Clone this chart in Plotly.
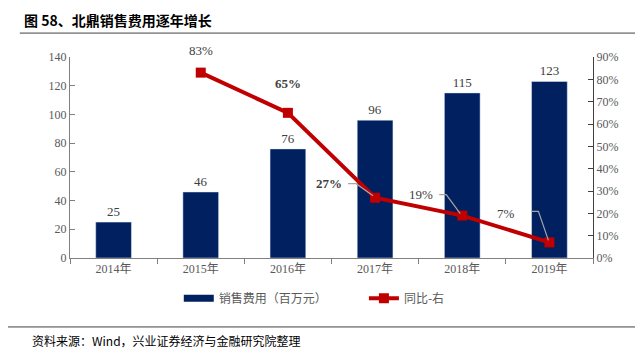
import plotly.graph_objects as go

years = ["2014年", "2015年", "2016年", "2017年", "2018年", "2019年"]
sales_expense = [25, 46, 76, 96, 115, 123]
yoy_years = ["2015年", "2016年", "2017年", "2018年", "2019年"]
yoy = [83, 65, 27, 19, 7]
yoy_labels = ["83%", "<b>65%</b>", "<b>27%</b>", "19%", "7%"]

navy = "#002060"
red = "#C00000"
gray = "#595959"
serif = "Times New Roman, Liberation Serif, Noto Sans CJK SC, serif"
cjk = "Noto Sans CJK SC, sans-serif"

fig = go.Figure()
fig.add_trace(go.Bar(
    x=years, y=sales_expense, name="销售费用（百万元）",
    marker=dict(color=navy), width=0.41, showlegend=False,
    text=[str(v) for v in sales_expense], textposition="outside",
    textfont=dict(family=serif, size=13, color="#404040"),
    cliponaxis=False,
))
# legend entry for the bars (wide rectangle swatch as in the reference)
fig.add_trace(go.Scatter(
    x=[None], y=[None], name="销售费用（百万元）", mode="lines",
    line=dict(color=navy, width=7), legend="legend",
))
fig.add_trace(go.Scatter(
    x=yoy_years, y=yoy, name="同比-右", yaxis="y2",
    mode="lines+markers", legend="legend2",
    line=dict(color=red, width=4),
    marker=dict(symbol="square", size=10, color=red),
))

# label offsets (pixels) and leader lines
offsets = [(0, -22), (0, -29), (-46, -14), (-41, -21), (-43, -29)]
leaders = [None, None, "M -27,14 L -19,14 L -2,2", "M -23,21 L -16,21 L -2,2", "M -18,31 L -11,31 L -1,2"]
for xv, yv, lab, (dx, dy), lp in zip(yoy_years, yoy, yoy_labels, offsets, leaders):
    fig.add_annotation(x=xv, y=yv, xref="x", yref="y2", text=lab, showarrow=True,
                       arrowcolor="rgba(0,0,0,0)", ax=dx, ay=dy,
                       font=dict(family=serif, size=13, color="#404040"))
    if lp:
        fig.add_shape(type="path", xref="x", yref="y2", xsizemode="pixel", ysizemode="pixel",
                      xanchor=xv, yanchor=yv, path=lp,
                      line=dict(color="#A6A6A6", width=1.2))

legend_common = dict(orientation="h", y=-0.2, xanchor="left", yanchor="middle",
                     font=dict(family=cjk, size=12, color=gray), itemwidth=30,
                     bgcolor="rgba(0,0,0,0)")
fig.update_layout(
    width=643, height=355,
    margin=dict(l=62, r=58, t=49, b=105, autoexpand=False),
    plot_bgcolor="white", paper_bgcolor="white",
    bargap=0.59,
    xaxis=dict(showline=True, linecolor="#808080", linewidth=1,
               ticks="outside", ticklen=5, tickcolor="#808080", tickson="boundaries",
               tickfont=dict(family=serif, size=12, color=gray)),
    yaxis=dict(range=[0, 140], dtick=20, showgrid=False, zeroline=False,
               showline=True, linecolor="#808080", ticks="inside", ticklen=5, tickcolor="#808080",
               tickfont=dict(family=serif, size=12, color=gray)),
    yaxis2=dict(range=[0, 90], dtick=10, overlaying="y", side="right", showgrid=False, zeroline=False,
                showline=True, linecolor="#404040", ticks="inside", ticklen=5, tickcolor="#404040",
                ticksuffix="%", tickfont=dict(family=serif, size=12, color=gray)),
    showlegend=True,
    legend=dict(x=0.208, **legend_common),
    legend2=dict(x=0.562, **legend_common),
)

# title, lines, source
fig.add_annotation(xref="paper", yref="paper", x=-0.092, y=1.184, xanchor="left", yanchor="middle",
                   text="<b>图 58、北鼎销售费用逐年增长</b>", showarrow=False,
                   font=dict(family=cjk, size=14, color="black"))
fig.add_shape(type="line", xref="paper", yref="paper", x0=-0.096, x1=1.09, y0=1.119, y1=1.119,
              line=dict(color="#404040", width=1))
fig.add_shape(type="line", xref="paper", yref="paper", x0=-0.134, x1=1.09, y0=-0.343, y1=-0.343,
              line=dict(color="#404040", width=1))
fig.add_annotation(xref="paper", yref="paper", x=-0.076, y=-0.408, xanchor="left", yanchor="middle",
                   text="资料来源：Wind，兴业证券经济与金融研究院整理", showarrow=False,
                   font=dict(family=cjk, size=12, color="black"))

fig.write_html("out.html")
